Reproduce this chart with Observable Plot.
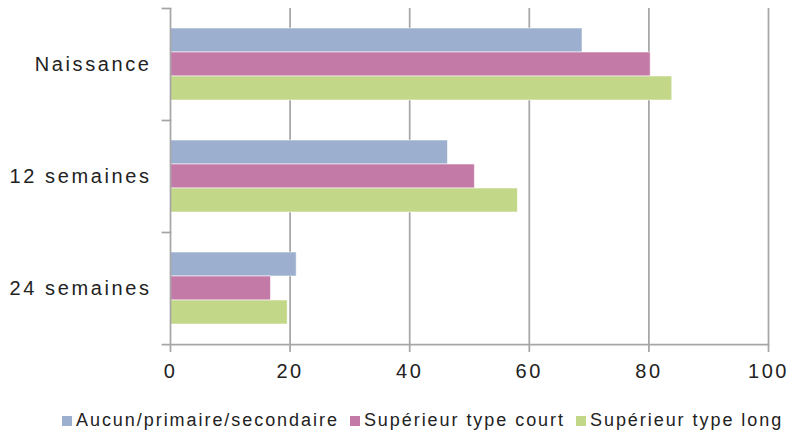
<!DOCTYPE html>
<html><head><meta charset="utf-8">
<script src="https://cdn.jsdelivr.net/npm/d3@7"></script>
<script src="https://cdn.jsdelivr.net/npm/@observablehq/plot@0.6"></script>
<style>
body{margin:0;background:#fff;font-family:"Liberation Sans",Arial,sans-serif;}
#chart svg{display:block;}
#legend{display:flex;align-items:center;height:31px;padding-top:10px;padding-left:62px;font-size:18px;letter-spacing:1.95px;color:#222;white-space:nowrap;}
.item{display:flex;align-items:center;margin-right:11px;}
.sw{width:10px;height:10px;margin-right:4px;flex:none;}
</style></head><body><div id="chart"></div><div id="legend"></div>
<script>
const categories = ["Naissance", "12 semaines", "24 semaines"];
const series = ["Aucun/primaire/secondaire", "Supérieur type court", "Supérieur type long"];
const valuesAucun = [68.9, 46.4, 21.1];
const valuesCourt = [80.3, 50.9, 16.8];
const valuesLong = [83.9, 58.1, 19.6];
const xTicks = [0, 20, 40, 60, 80, 100];
const gridTicks = [20, 40, 60, 80, 100];
const colors = ["#9DAFCE", "#C47AA7", "#C2D888"];

const seriesValues = [valuesAucun, valuesCourt, valuesLong];
const data = [];
categories.forEach((c, i) => series.forEach((s, j) => data.push({category: c, series: s, value: seriesValues[j][i]})));

const gray = "#a6a6a6";
const W = 792, H = 395, mL = 170, mR = 24;

const chart = Plot.plot({
  width: W, height: H,
  marginLeft: mL, marginRight: mR, marginTop: 7, marginBottom: 50,
  style: {fontFamily: "'Liberation Sans', Arial, sans-serif", fontSize: "20px", letterSpacing: "2.6px", color: "#222", background: "#fff"},
  x: {domain: [0, 100], axis: null},
  y: {domain: series, paddingInner: 0, paddingOuter: 0.75, axis: null},
  fy: {domain: categories, padding: 0, axis: null},
  color: {domain: series, range: colors},
  marks: [
    Plot.ruleX(gridTicks, {stroke: gray, strokeWidth: 1.75}),
    Plot.barX(data, {x: "value", y: "series", fy: "category", fill: "series", stroke: "#fff", strokeOpacity: 0.55, strokeWidth: 1}),
    Plot.ruleX([0], {stroke: gray, strokeWidth: 1.75}),
    Plot.frame({anchor: "top", stroke: gray, strokeWidth: 1.75, insetLeft: -8, insetRight: W - mL - mR}),
    Plot.frame({anchor: "bottom", facetAnchor: "bottom", stroke: gray, strokeWidth: 1.75, insetLeft: -8}),
    Plot.axisX({ticks: xTicks, tickSize: 8, tickPadding: 11, stroke: gray, strokeWidth: 1.75, fill: "#222", label: null, fontSize: 20}),
    Plot.axisFy({anchor: "left", tickSize: 0, tickPadding: 19, label: null, fill: "#222", fontSize: 20}),
  ]
});
document.getElementById("chart").appendChild(chart);

const legend = document.getElementById("legend");
series.forEach((s, i) => {
  const it = document.createElement("div");
  it.className = "item";
  const sw = document.createElement("span");
  sw.className = "sw";
  sw.style.background = colors[i];
  const t = document.createElement("span");
  t.textContent = s;
  it.appendChild(sw); it.appendChild(t);
  legend.appendChild(it);
});
</script>
</body></html>
